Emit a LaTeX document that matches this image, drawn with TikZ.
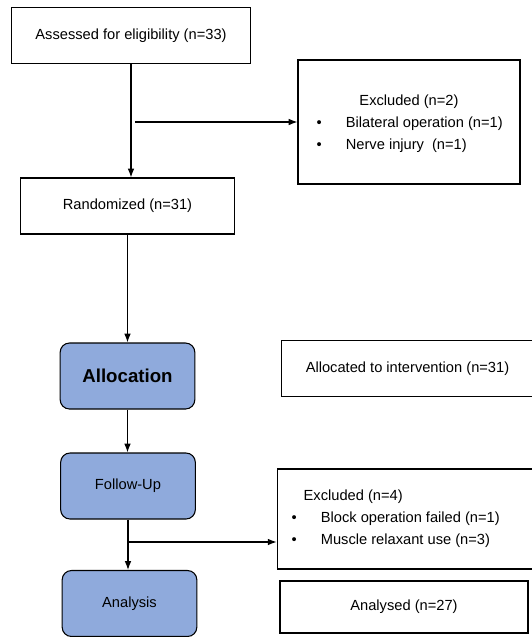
\documentclass[tikz,border=0pt]{standalone}
\usepackage{fontspec}
\setmainfont{Liberation Sans}
\usetikzlibrary{arrows.meta,positioning}
\definecolor{stageblue}{RGB}{143,170,220}
\tikzset{
  plainbox/.style={draw,thick,inner sep=0pt,font=\fontsize{11}{13}\selectfont},
  stagebox/.style={draw,thick,rounded corners=7pt,fill=stageblue,inner sep=0pt,
    minimum width=101pt,minimum height=49.5pt,font=\fontsize{11}{13}\selectfont},
  flow/.style={->,thick}
}
\begin{document}
\begin{tikzpicture}[x=0.75pt,y=-0.75pt,>=Latex]
\useasboundingbox (0,0) rectangle (532,637);
\node[plainbox,minimum width=179pt,minimum height=42pt] (assess) at (131,35.5) {Assessed for eligibility (n=33)};
\node[plainbox,minimum width=166.5pt,minimum height=93pt] (excl1) at (409,122) {};
\node at (409,102) {\fontsize{11}{13}\selectfont Excluded (n=2)};
\node[anchor=west] (b1) at (312,124) {\fontsize{11}{13}\selectfont\textbullet\hspace{18pt}Bilateral operation (n=1)};
\node[anchor=west] (b2) at (312,146) {\fontsize{11}{13}\selectfont\textbullet\hspace{18pt}Nerve injury\hspace{6pt}(n=1)};
\node[plainbox,minimum width=161pt,minimum height=42pt] (rand) at (127.5,206) {Randomized (n=31)};
\node[stagebox,font=\fontsize{14}{16}\selectfont\bfseries] (alloc) at (127.5,376) {Allocation};
\node[plainbox,minimum width=191pt,minimum height=41.5pt] (allocd) at (408.5,368.5) {};
\node at (407.5,369) {\fontsize{11}{13}\selectfont Allocated to intervention (n=31)};
\node[stagebox] (follow) at (128,486) {Follow-Up};
\node[plainbox,minimum width=194pt,minimum height=75pt] (excl2) at (406.5,519) {};
\node[anchor=west] at (299,497) {\fontsize{11}{13}\selectfont Excluded (n=4)};
\node[anchor=west] (b3) at (287,519) {\fontsize{11}{13}\selectfont\textbullet\hspace{18pt}Block operation failed (n=1)};
\node[anchor=west] (b4) at (287,541) {\fontsize{11}{13}\selectfont\textbullet\hspace{18pt}Muscle relaxant use (n=3)};
\node[stagebox] (analysis) at (129.5,603.5) {Analysis};
\node[plainbox,minimum width=186pt,minimum height=39pt] (analysed) at (404,607) {Analysed (n=27)};
% connectors
\draw[flow] (assess.south) -- (rand.north -| assess.south);
\coordinate (br1) at (135,122);
\draw[flow] (br1) -- (br1 -| excl1.west);
\draw[flow] (rand.south -| alloc.north) -- (alloc.north);
\draw[flow] (alloc.south) -- (follow.north -| alloc.south);
\draw[flow] (follow.south) -- (analysis.north -| follow.south);
\coordinate (br2) at (follow.south |- 0,542);
\draw[flow] (br2) -- (br2 -| excl2.west);
\end{tikzpicture}
\end{document}
